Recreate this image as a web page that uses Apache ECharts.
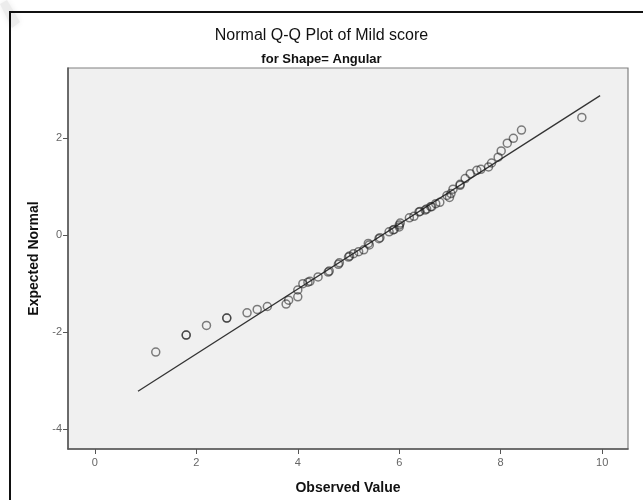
<!DOCTYPE html>
<html>
<head>
<meta charset="utf-8">
<script src="https://cdn.jsdelivr.net/npm/echarts@6/dist/echarts.min.js"></script>
<style>
  html, body { margin: 0; padding: 0; background: #ffffff; }
  #chart { width: 643px; height: 500px; }
</style>
</head>
<body>
<div id="chart"></div>
<script>
// Observed scores (sorted) and their expected normal quantiles
const observed = [
  1.2, 1.8, 1.8, 2.2, 2.6, 2.6, 3.0, 3.2, 3.4, 3.77, 3.82, 4.0, 4.0,
  4.1, 4.2, 4.24, 4.4, 4.6, 4.62, 4.8, 4.82, 5.0, 5.02, 5.1, 5.2, 5.3,
  5.39, 5.41, 5.6, 5.62, 5.8, 5.88, 5.9, 6.0, 6.0, 6.02, 6.2, 6.29, 6.39,
  6.41, 6.51, 6.54, 6.62, 6.64, 6.72, 6.8, 6.94, 6.99, 7.02, 7.06, 7.2,
  7.2, 7.3, 7.4, 7.53, 7.61, 7.76, 7.82, 7.95, 8.01, 8.13, 8.25, 8.41, 9.6
];
const expectedNormal = [
  -2.41, -2.06, -2.06, -1.86, -1.71, -1.71, -1.60, -1.53, -1.47, -1.42, -1.34, -1.27, -1.13,
  -1.00, -0.97, -0.95, -0.86, -0.76, -0.74, -0.60, -0.57, -0.45, -0.43, -0.38, -0.34, -0.30,
  -0.17, -0.20, -0.07, -0.05, 0.07, 0.11, 0.12, 0.17, 0.21, 0.25, 0.36, 0.39, 0.48,
  0.49, 0.52, 0.54, 0.59, 0.59, 0.65, 0.68, 0.82, 0.78, 0.86, 0.95, 1.03,
  1.05, 1.17, 1.27, 1.34, 1.36, 1.41, 1.49, 1.61, 1.74, 1.90, 2.00, 2.17, 2.43
];
// Reference line endpoints (observed, expected)
const refLineX = [0.85, 9.96];
const refLineY = [-3.22, 2.88];
// Tick labels
const xTicks = [0, 2, 4, 6, 8, 10];
const yTicks = [-4, -2, 0, 2];

const points = observed.map((v, i) => [v, expectedNormal[i]]);
const refLine = refLineX.map((v, i) => [v, refLineY[i]]);

const chart = echarts.init(document.getElementById('chart'), null, { renderer: 'canvas' });
const font = '"Liberation Sans", Arial, sans-serif';

chart.setOption({
  backgroundColor: '#ffffff',
  animation: false,
  title: [
    {
      text: 'Normal Q-Q Plot of Mild score',
      left: 'center', top: 23,
      textStyle: { fontFamily: font, fontSize: 16, fontWeight: 'normal', color: '#111' }
    },
    {
      text: 'for Shape= Angular',
      left: 'center', top: 48,
      textStyle: { fontFamily: font, fontSize: 13, fontWeight: 'bold', color: '#111' }
    }
  ],
  grid: {
    left: 68, right: 15, top: 68, bottom: 46,
    show: true, backgroundColor: '#f0f0f0', borderColor: '#808080', borderWidth: 1.2
  },
  xAxis: {
    type: 'value', min: -0.53, max: 10.51,
    name: 'Observed Value', nameLocation: 'middle', nameGap: 32,
    nameTextStyle: { fontFamily: font, fontSize: 14, fontWeight: 'bold', color: '#111' },
    axisLine: { show: true, onZero: false, lineStyle: { color: '#555', width: 1.5 } },
    axisTick: { show: true, length: 5, customValues: xTicks, lineStyle: { color: '#555' } },
    axisLabel: { customValues: xTicks, margin: 8, fontFamily: font, fontSize: 11, color: '#666' },
    splitLine: { show: false }
  },
  yAxis: {
    type: 'value', min: -4.41, max: 3.45,
    name: 'Expected Normal', nameLocation: 'middle', nameGap: 24,
    nameTextStyle: { fontFamily: font, fontSize: 14, fontWeight: 'bold', color: '#111' },
    axisLine: { show: true, onZero: false, lineStyle: { color: '#555', width: 1.5 } },
    axisTick: { show: true, length: 5, customValues: yTicks, lineStyle: { color: '#555' } },
    axisLabel: { customValues: yTicks, margin: 6, fontFamily: font, fontSize: 11, color: '#666' },
    splitLine: { show: false }
  },
  series: [
    {
      type: 'line',
      data: refLine,
      symbol: 'none',
      lineStyle: { color: '#333', width: 1.3 },
      z: 2
    },
    {
      type: 'scatter',
      data: points,
      symbol: 'circle',
      symbolSize: 8,
      itemStyle: { color: 'rgba(0,0,0,0)', borderColor: 'rgba(30,30,30,0.7)', borderWidth: 1.5 },
      z: 3
    }
  ],
  graphic: [
    {
      // faint smudge in the top-left corner
      type: 'polygon',
      shape: { points: [[0, 4], [7, 0], [20, 22], [12, 28]] },
      style: { fill: '#ececec', shadowBlur: 6, shadowColor: '#ececec' },
      z: 90
    },
    {
      type: 'rect',
      shape: { x: 10, y: 12, width: 700, height: 600 },
      style: { fill: 'none', stroke: '#111', lineWidth: 2 },
      z: 100
    }
  ]
});
</script>
</body>
</html>
